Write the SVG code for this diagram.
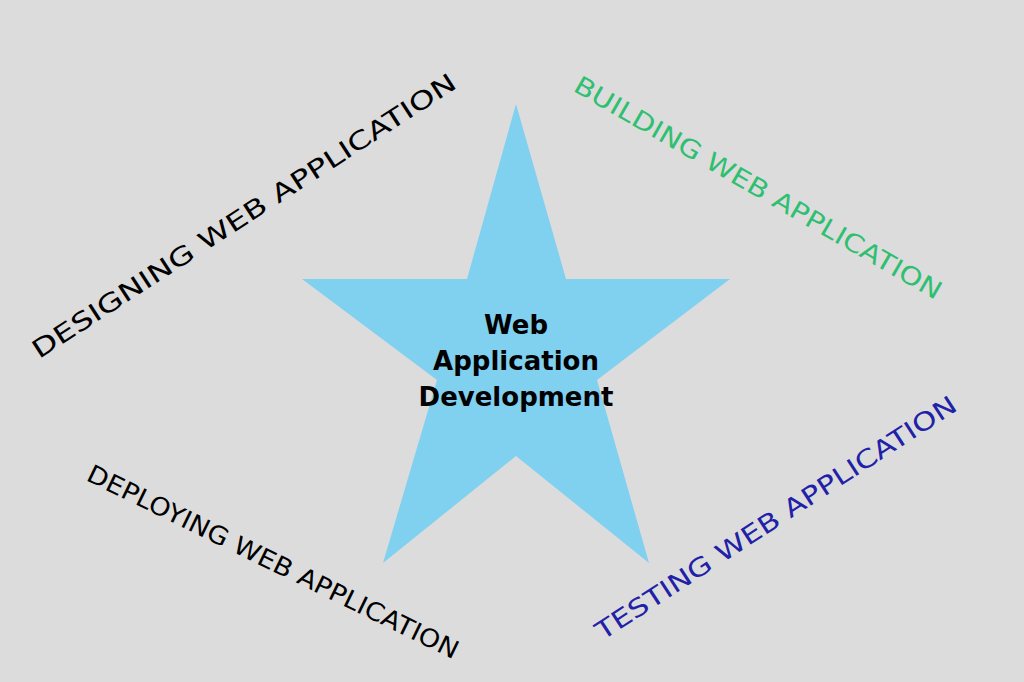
<svg xmlns="http://www.w3.org/2000/svg" width="1024" height="682" viewBox="0 0 1024 682">
<style>
.lbl{font-family:"DejaVu Sans",sans-serif;text-anchor:middle;dominant-baseline:central;font-size:25px}
.ctr{font-family:"DejaVu Sans",sans-serif;font-weight:bold;text-anchor:middle;font-size:26px;fill:#000}
</style>
<rect width="1024" height="682" fill="#dcdcdc"/>
<g id="star">
<polygon points="516,104 566,279 730,279 597,380 649,563 516,456 383,563 437,380 302,279 467,279" fill="#80d0f0"/>
<text class="ctr" x="516" y="334">Web</text>
<text class="ctr" x="516" y="370">Application</text>
<text class="ctr" x="516" y="406">Development</text>
</g>
<g id="designing"><text class="lbl" transform="translate(244,216) rotate(-33)" textLength="500" lengthAdjust="spacingAndGlyphs" fill="#000" font-size="27">DESIGNING WEB APPLICATION</text></g>
<g id="building"><text class="lbl" transform="translate(758,188) rotate(30)" textLength="420" lengthAdjust="spacingAndGlyphs" fill="#2fbf71">BUILDING WEB APPLICATION</text></g>
<g id="deploying"><text class="lbl" transform="translate(273,562) rotate(26)" textLength="410" lengthAdjust="spacingAndGlyphs" fill="#000">DEPLOYING WEB APPLICATION</text></g>
<g id="testing"><text class="lbl" transform="translate(776,518) rotate(-33)" textLength="425" lengthAdjust="spacingAndGlyphs" fill="#2020a8">TESTING WEB APPLICATION</text></g>
<g id="connectors"/>
</svg>
